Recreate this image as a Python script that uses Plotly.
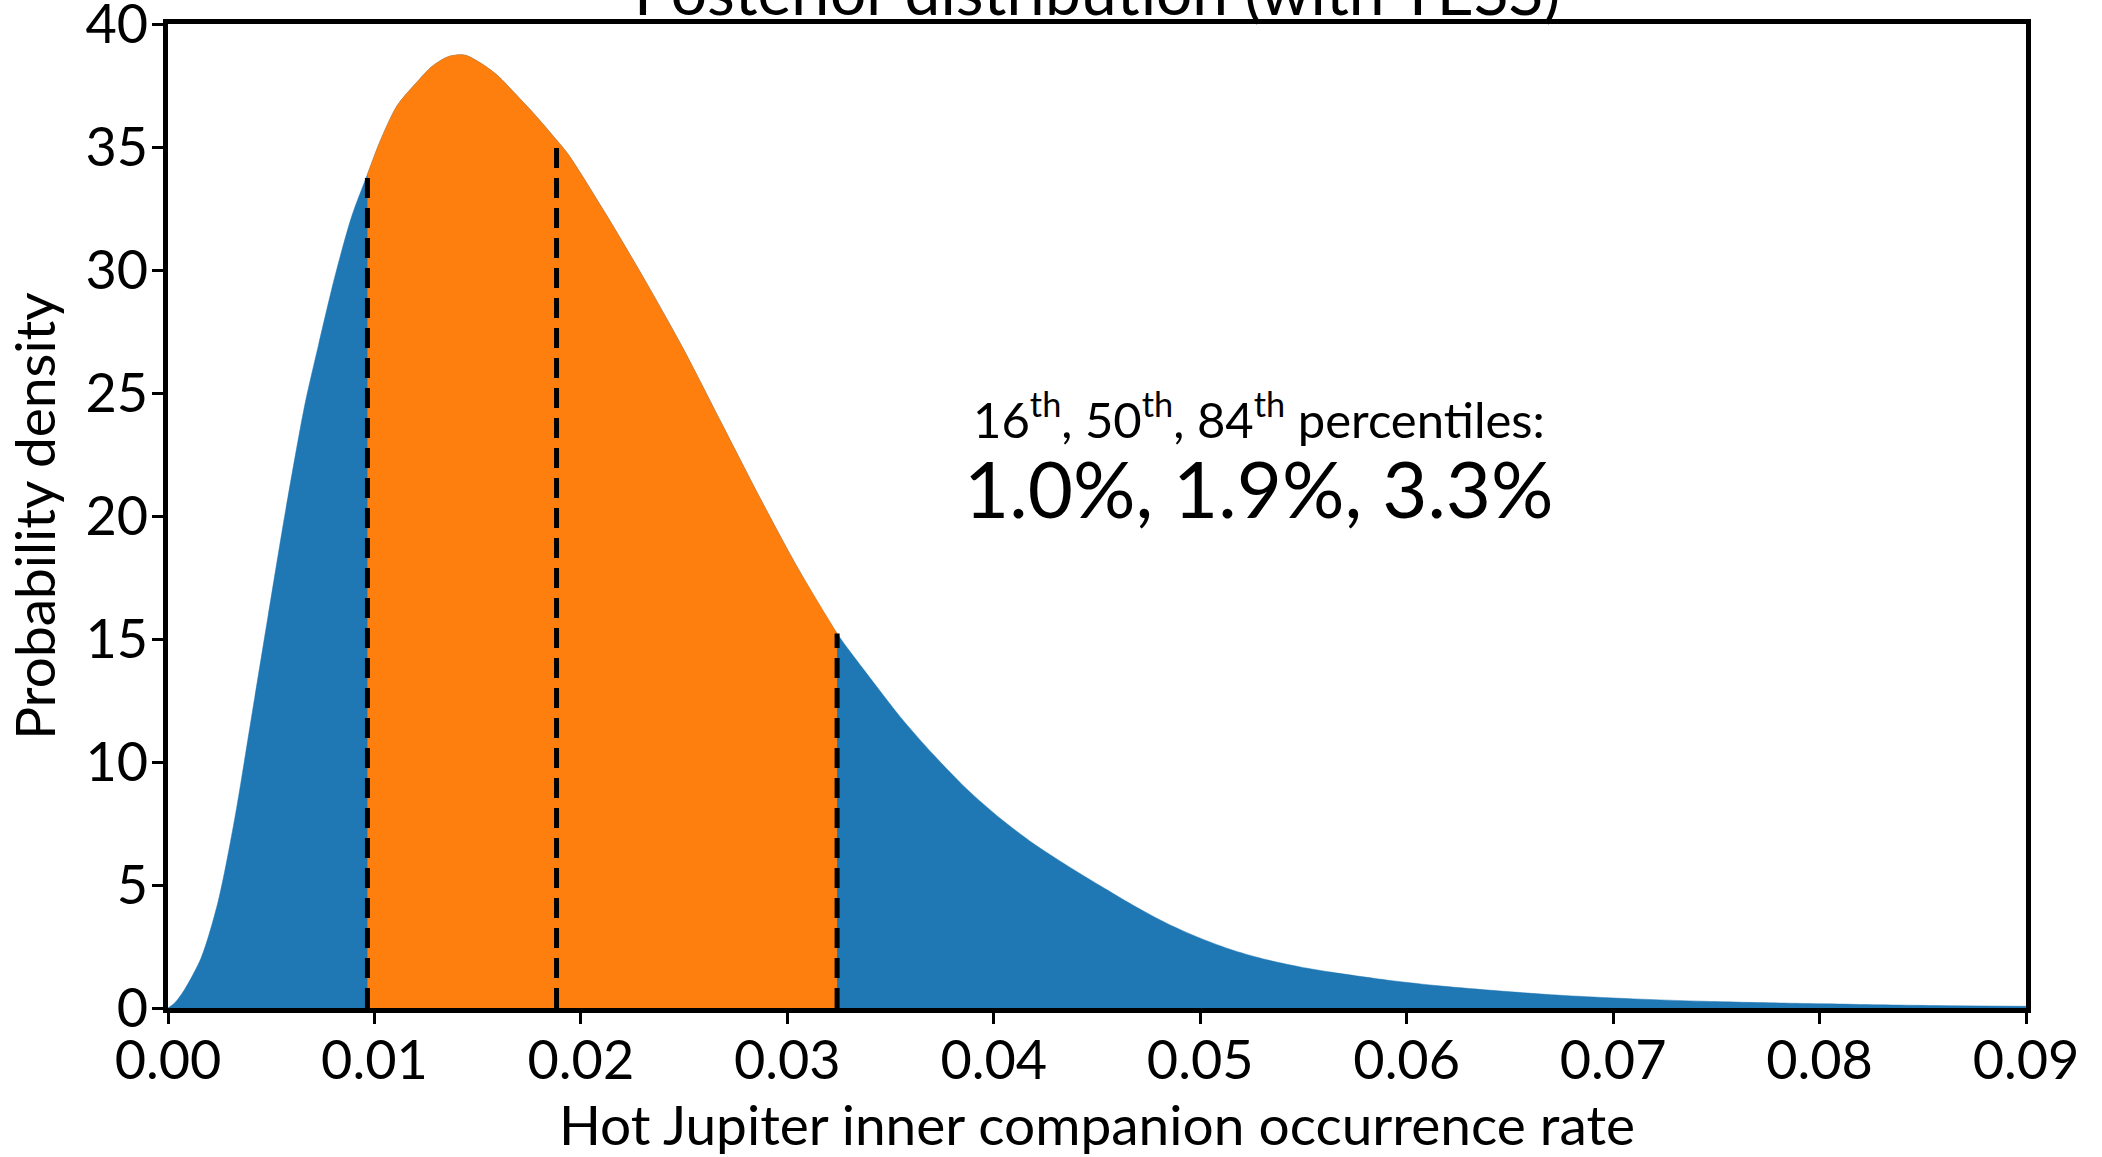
import plotly.graph_objects as go

# ---- data ----
rate = [0.0, 0.00032, 0.00081, 0.00161, 0.00242, 0.00323, 0.00404, 0.00484, 0.00565, 0.00662,
        0.0073, 0.0081, 0.0089, 0.00966, 0.0103, 0.0111, 0.0120, 0.0128, 0.0136, 0.0144,
        0.0152, 0.0160, 0.0168, 0.0178, 0.01882, 0.0194, 0.0212, 0.0231, 0.0249, 0.0268,
        0.0287, 0.0305, 0.03241, 0.03385, 0.03547, 0.03708, 0.0387, 0.0403, 0.0419, 0.04354,
        0.04516, 0.04677, 0.04839, 0.0500, 0.05162, 0.05323, 0.05484, 0.0564, 0.0591, 0.0617,
        0.0644, 0.0670, 0.0697, 0.0723, 0.0750, 0.0776, 0.0803, 0.0829, 0.0856, 0.0900]
density = [0.0, 0.2, 0.76, 2.05, 4.3, 7.69, 11.8, 15.9, 20.0, 24.5,
           27.0, 29.8, 32.2, 33.9, 35.3, 36.7, 37.6, 38.3, 38.7, 38.75,
           38.4, 37.9, 37.2, 36.3, 35.3, 34.7, 32.3, 29.6, 26.9, 23.8,
           20.7, 17.9, 15.23, 13.6, 11.84, 10.3, 8.9, 7.72, 6.7, 5.8,
           4.97, 4.17, 3.44, 2.84, 2.34, 1.96, 1.67, 1.45, 1.13, 0.89,
           0.70, 0.54, 0.42, 0.33, 0.26, 0.21, 0.17, 0.13, 0.10, 0.07]
percentiles = [0.00966, 0.01882, 0.03241]   # 16th, 50th, 84th
x_ticks = [0.00, 0.01, 0.02, 0.03, 0.04, 0.05, 0.06, 0.07, 0.08, 0.09]
y_ticks = [0, 5, 10, 15, 20, 25, 30, 35, 40]

BLUE = "#1f77b4"
ORANGE = "#ff7f0e"
FONT = "Lato"

fig = go.Figure()
fig.add_trace(go.Scatter(x=rate, y=density, mode="lines", fill="tozeroy",
                         line=dict(color=BLUE, width=0.5, shape="spline", smoothing=0.8),
                         fillcolor=BLUE, hoverinfo="skip", showlegend=False))

lo, hi = percentiles[0], percentiles[-1]
mid_x = [x for x in rate if lo <= x <= hi]
mid_y = [y for x, y in zip(rate, density) if lo <= x <= hi]
fig.add_trace(go.Scatter(x=mid_x, y=mid_y, mode="lines", fill="tozeroy",
                         line=dict(color=ORANGE, width=0.5, shape="spline", smoothing=0.8),
                         fillcolor=ORANGE, hoverinfo="skip", showlegend=False))

for p in percentiles:
    yv = density[rate.index(p)]
    fig.add_trace(go.Scatter(x=[p, p], y=[0, yv], mode="lines",
                             line=dict(color="black", width=5, dash="20px,10px"),
                             hoverinfo="skip", showlegend=False))

fig.add_annotation(x=0.5, y=1.0, xref="paper", yref="paper", yshift=-7,
                   text="Posterior distribution (with TESS)", showarrow=False,
                   xanchor="center", yanchor="bottom",
                   font=dict(family=FONT, size=64, color="black"))
fig.add_annotation(x=0.587, y=0.6026, xref="paper", yref="paper",
                   text="16<sup>th</sup>, 50<sup>th</sup>, 84<sup>th</sup> percentiles:",
                   showarrow=False, xanchor="center", yanchor="middle",
                   font=dict(family=FONT, size=49, color="black"))
fig.add_annotation(x=0.587, y=0.528, xref="paper", yref="paper",
                   text="1.0%, 1.9%, 3.3%", showarrow=False,
                   xanchor="center", yanchor="middle",
                   font=dict(family=FONT, size=78, color="black"))

axis_common = dict(showgrid=False, zeroline=False, showline=True, linecolor="black",
                   linewidth=5, mirror=True, ticks="outside", ticklen=11, tickwidth=3,
                   tickcolor="black", ticklabeloverflow="allow", automargin=False,
                   tickfont=dict(family=FONT, size=54, color="black"))
fig.update_xaxes(range=[0, 0.09], tickvals=x_ticks, tickformat=".2f",
                 ticklabelstandoff=-10,
                 title=dict(text="Hot Jupiter inner companion occurrence rate",
                            font=dict(family=FONT, size=55, color="black"), standoff=16),
                 **axis_common)
fig.update_yaxes(range=[0, 40.02], tickvals=y_ticks, ticklabelstandoff=-7,
                 title=dict(text="Probability density",
                            font=dict(family=FONT, size=55, color="black"), standoff=14),
                 **axis_common)

fig.update_layout(width=2102, height=1157, plot_bgcolor="white", paper_bgcolor="white",
                  margin=dict(l=168, r=76, t=24, b=149, autoexpand=False), showlegend=False)

fig.write_html("out.html")
